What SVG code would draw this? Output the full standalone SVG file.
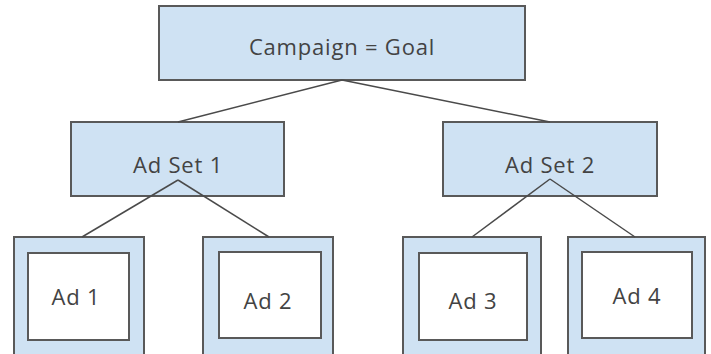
<svg xmlns="http://www.w3.org/2000/svg" width="711" height="354" viewBox="0 0 711 354">
  <style>
    .box { fill: #cfe2f3; stroke: #595959; stroke-width: 2; }
    .inner { fill: #ffffff; stroke: #595959; stroke-width: 2; }
    .label { font-family: "Open Sans", "Lato", sans-serif; font-size: 22px; letter-spacing: 0.8px; fill: #434343; text-anchor: middle; }
    .link { stroke: #4a4a4a; stroke-width: 1.5; fill: none; }
  </style>
  <rect width="711" height="354" fill="#ffffff"/>

  <g id="campaign">
    <rect class="box" x="159" y="6" width="366" height="74"/>
    <text class="label" x="342" y="55">Campaign = Goal</text>
  </g>

  <g id="adset1">
    <rect class="box" x="71" y="122" width="213" height="74"/>
    <text class="label" x="178" y="173">Ad Set 1</text>
  </g>

  <g id="adset2">
    <rect class="box" x="443" y="122" width="214" height="74"/>
    <text class="label" x="550" y="173">Ad Set 2</text>
  </g>

  <g id="ad1">
    <rect class="box" x="14" y="237" width="130" height="120"/>
    <rect class="inner" x="28" y="253" width="101" height="87"/>
    <text class="label" x="76" y="305">Ad 1</text>
  </g>

  <g id="ad2">
    <rect class="box" x="203" y="237" width="130" height="120"/>
    <rect class="inner" x="219" y="252" width="102" height="86"/>
    <text class="label" x="268" y="309">Ad 2</text>
  </g>

  <g id="ad3">
    <rect class="box" x="403" y="237" width="138" height="120"/>
    <rect class="inner" x="419" y="253" width="108" height="87"/>
    <text class="label" x="473" y="309">Ad 3</text>
  </g>

  <g id="ad4">
    <rect class="box" x="568" y="237" width="137" height="120"/>
    <rect class="inner" x="582" y="252" width="110" height="86"/>
    <text class="label" x="637" y="304">Ad 4</text>
  </g>

  <g id="connectors">
    <line class="link" x1="342" y1="80" x2="178" y2="122"/>
    <line class="link" x1="342" y1="80" x2="550" y2="122"/>
    <line class="link" x1="178" y1="180" x2="82" y2="237"/>
    <line class="link" x1="178" y1="180" x2="269" y2="237"/>
    <line class="link" x1="550" y1="179" x2="472" y2="237"/>
    <line class="link" x1="550" y1="179" x2="635" y2="237"/>
  </g>
</svg>
